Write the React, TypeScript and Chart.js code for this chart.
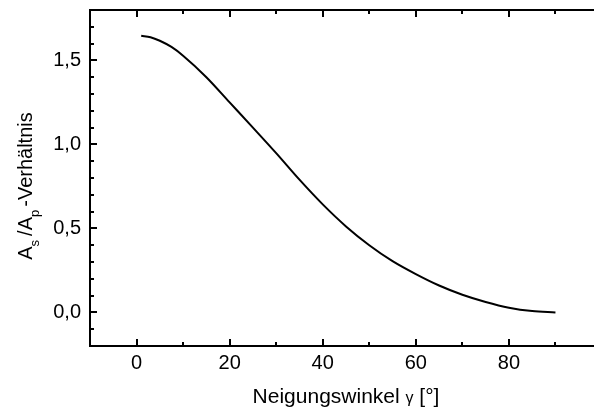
import React, { useEffect, useRef } from "react";
import { Chart, registerables } from "chart.js";

Chart.register(...registerables);

// Data
const angles = [1, 3, 5, 7.5, 10, 15, 20, 25, 30, 35, 40, 45, 50, 55, 60, 65, 70, 75, 80, 85, 90];
const ratio = [1.647, 1.638, 1.617, 1.58, 1.528, 1.4, 1.25, 1.1, 0.948, 0.79, 0.643, 0.512, 0.4, 0.305, 0.228, 0.16, 0.105, 0.062, 0.028, 0.008, 0.0];

const xLabelTicks = [0, 20, 40, 60, 80];
const xMajorTicks = [0, 20, 40, 60, 80, 100];
const xMinorTicks = [-10, 10, 30, 50, 70, 90];
const yMajorTicks = [0, 0.5, 1.0, 1.5];
const yMinorTicks = [-0.2, -0.1, 0.1, 0.2, 0.3, 0.4, 0.6, 0.7, 0.8, 0.9, 1.1, 1.2, 1.3, 1.4, 1.6, 1.7, 1.8];

const xTitleParts: { text: string; size: number }[] = [
  { text: "Neigungswinkel ", size: 21 },
  { text: "γ", size: 16 },
  { text: " [°]", size: 21 },
];
const yTitleParts: { text: string; sub: boolean; gap: number }[] = [
  { text: "A", sub: false, gap: 0 },
  { text: "s", sub: true, gap: 4 },
  { text: "/A", sub: false, gap: 0 },
  { text: "p", sub: true, gap: 3 },
  { text: "-Verhältnis", sub: false, gap: 0 },
];

const FONT = "'Liberation Sans', Arial, sans-serif";

const framePlugin = {
  id: "framePlugin",
  afterDraw(chart: any) {
    const { ctx, chartArea } = chart;
    const xs = chart.scales.x;
    const ys = chart.scales.y;
    const { left, right, top, bottom } = chartArea;
    ctx.save();
    ctx.strokeStyle = "#000";
    ctx.lineWidth = 2;
    ctx.lineCap = "butt";
    ctx.beginPath();
    ctx.rect(left, top, right - left, bottom - top);
    ctx.stroke();

    const major = 7;
    const minor = 4;
    ctx.beginPath();
    xMajorTicks.forEach((v) => {
      const px = Math.round(xs.getPixelForValue(v));
      ctx.moveTo(px, bottom);
      ctx.lineTo(px, bottom - major);
      ctx.moveTo(px, top);
      ctx.lineTo(px, top + major);
    });
    xMinorTicks.forEach((v) => {
      const px = Math.round(xs.getPixelForValue(v));
      ctx.moveTo(px, bottom);
      ctx.lineTo(px, bottom - minor);
      ctx.moveTo(px, top);
      ctx.lineTo(px, top + minor);
    });
    yMajorTicks.forEach((v) => {
      const py = Math.round(ys.getPixelForValue(v));
      ctx.moveTo(left, py);
      ctx.lineTo(left + major, py);
      ctx.moveTo(right, py);
      ctx.lineTo(right - major, py);
    });
    yMinorTicks.forEach((v) => {
      const py = Math.round(ys.getPixelForValue(v));
      ctx.moveTo(left, py);
      ctx.lineTo(left + minor, py);
      ctx.moveTo(right, py);
      ctx.lineTo(right - minor, py);
    });
    ctx.stroke();

    // X title
    ctx.fillStyle = "#000";
    ctx.textBaseline = "alphabetic";
    ctx.textAlign = "left";
    let total = 0;
    xTitleParts.forEach((p) => {
      ctx.font = `${p.size}px ${FONT}`;
      total += ctx.measureText(p.text).width;
    });
    const cx = (left + right) / 2;
    let x0 = cx - total / 2;
    const baseY = 403;
    xTitleParts.forEach((p) => {
      ctx.font = `${p.size}px ${FONT}`;
      ctx.fillText(p.text, x0, baseY);
      x0 += ctx.measureText(p.text).width;
    });

    // Y title (rotated)
    const mainFont = `20px ${FONT}`;
    const subFont = `13px ${FONT}`;
    let tw = 0;
    yTitleParts.forEach((p) => {
      ctx.font = p.sub ? subFont : mainFont;
      tw += ctx.measureText(p.text).width + p.gap;
    });
    const cy = 186;
    ctx.translate(32, cy);
    ctx.rotate(-Math.PI / 2);
    let tx = -tw / 2;
    yTitleParts.forEach((p) => {
      ctx.font = p.sub ? subFont : mainFont;
      ctx.fillText(p.text, tx, p.sub ? 7 : 0);
      tx += ctx.measureText(p.text).width + p.gap;
    });
    ctx.restore();
  },
};

export default function App() {
  const ref = useRef<HTMLCanvasElement | null>(null);
  useEffect(() => {
    if (!ref.current) return;
    const chart = new Chart(ref.current, {
      type: "line",
      data: {
        datasets: [
          {
            data: angles.map((a, i) => ({ x: a, y: ratio[i] })),
            borderColor: "#000",
            borderWidth: 2,
            pointRadius: 0,
            fill: false,
            cubicInterpolationMode: "monotone",
          },
        ],
      },
      options: {
        animation: false,
        responsive: false,
        devicePixelRatio: 1,
        layout: { padding: { top: 10, right: 10, left: 0, bottom: 0 } },
        plugins: { legend: { display: false }, tooltip: { enabled: false } },
        scales: {
          x: {
            type: "linear",
            min: -10,
            max: 100,
            grid: { display: false, drawTicks: false },
            border: { display: false },
            afterBuildTicks: (axis: any) => {
              axis.ticks = xLabelTicks.map((v) => ({ value: v }));
            },
            afterFit: (axis: any) => {
              axis.height = 66;
              axis.paddingLeft = 0;
              axis.paddingRight = 0;
            },
            ticks: {
              color: "#000",
              font: { family: FONT, size: 20 },
              padding: 5,
              maxRotation: 0,
              callback: (v: any) => String(v),
            },
          },
          y: {
            type: "linear",
            min: -0.2,
            max: 1.8,
            grid: { display: false, drawTicks: false },
            border: { display: false },
            afterBuildTicks: (axis: any) => {
              axis.ticks = yMajorTicks.map((v) => ({ value: v }));
            },
            afterFit: (axis: any) => {
              axis.width = 90;
              axis.paddingTop = 0;
              axis.paddingBottom = 0;
            },
            ticks: {
              color: "#000",
              font: { family: FONT, size: 20 },
              padding: 9,
              callback: (v: any) => Number(v).toFixed(1).replace(".", ","),
            },
          },
        },
      },
      plugins: [framePlugin],
    } as any);
    return () => chart.destroy();
  }, []);
  return (
    <div
      style={{
        position: "fixed",
        left: 0,
        top: 0,
        width: 594,
        height: 412,
        overflow: "hidden",
        background: "#fff",
      }}
    >
      <canvas ref={ref} width={612} height={412} style={{ display: "block" }} />
    </div>
  );
}
